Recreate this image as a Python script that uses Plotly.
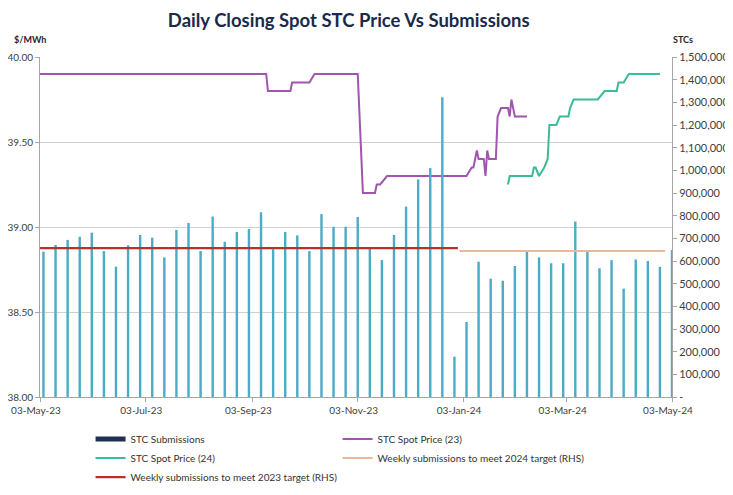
import pandas as pd
import plotly.graph_objects as go

# ---- data ----
sub_start = "2023-05-05"
submissions = [641000, 671000, 693000, 707000, 725000, 644000, 575000, 669000, 715000, 703000,
               616000, 737000, 768000, 644000, 796000, 685000, 728000, 741000, 815000, 652000,
               728000, 713000, 644000, 807000, 751000, 751000, 794000, 656000, 604000, 715000,
               840000, 960000, 1010000, 1322000, 178000, 331000, 597000, 522000, 513000, 578000,
               644000, 616000, 590000, 590000, 774000, 641000, 568000, 604000, 478000, 607000,
               600000, 574000, 649000]
sub_dates = pd.date_range(sub_start, periods=len(submissions), freq="7D")

spot23_dates = ["2023-05-03", "2023-09-11", "2023-09-12", "2023-09-25", "2023-09-26", "2023-10-06",
                "2023-10-09", "2023-11-03", "2023-11-06", "2023-11-13", "2023-11-14", "2023-11-16",
                "2023-11-20", "2024-01-05", "2024-01-08", "2024-01-09", "2024-01-10", "2024-01-11",
                "2024-01-12", "2024-01-15", "2024-01-16", "2024-01-17", "2024-01-18", "2024-01-22",
                "2024-01-23", "2024-01-25", "2024-01-29", "2024-01-30", "2024-01-31", "2024-02-02",
                "2024-02-09"]
spot23_vals = [39.90, 39.90, 39.80, 39.80, 39.85, 39.85,
               39.90, 39.90, 39.20, 39.20, 39.25, 39.25,
               39.30, 39.30, 39.35, 39.35, 39.40, 39.45,
               39.40, 39.40, 39.30, 39.45, 39.40, 39.40,
               39.65, 39.70, 39.70, 39.65, 39.75, 39.65,
               39.65]

spot24_dates = ["2024-01-29", "2024-01-30", "2024-02-12", "2024-02-13", "2024-02-14", "2024-02-16",
                "2024-02-19", "2024-02-21", "2024-02-22", "2024-02-26", "2024-02-28", "2024-03-04",
                "2024-03-05", "2024-03-07", "2024-03-21", "2024-03-25", "2024-04-01", "2024-04-02",
                "2024-04-05", "2024-04-08", "2024-04-26"]
spot24_vals = [39.25, 39.30, 39.30, 39.35, 39.35, 39.30,
               39.35, 39.40, 39.60, 39.60, 39.65, 39.65,
               39.70, 39.75, 39.75, 39.80, 39.80, 39.85,
               39.85, 39.90, 39.90]

target23_dates = ["2023-05-03", "2023-12-31"]
target23_vals = [657000, 657000]
target24_dates = ["2024-01-01", "2024-04-29"]
target24_vals = [644000, 644000]

x_tickvals = ["2023-05-03", "2023-07-03", "2023-09-03", "2023-11-03", "2024-01-03", "2024-03-03", "2024-05-03"]
x_ticktext = ["03-May-23", "03-Jul-23", "03-Sep-23", "03-Nov-23", "03-Jan-24", "03-Mar-24", "03-May-24"]
y2_tickvals = list(range(0, 1500001, 100000))
y2_ticktext = ["-"] + [f"{v:,}" for v in y2_tickvals[1:]]

# ---- styles ----
FONT = "Lato"
C_BAR = "#4BACC6"
C_BAR_LEG = "#1F3050"
C_23 = "#A055AE"
C_24 = "#3DBA98"
C_T23 = "#B8302A"
C_T24 = "#E8B89C"
AX = "#A6A6A6"

fig = go.Figure()

fig.add_trace(go.Bar(x=sub_dates, y=submissions, yaxis="y2", name="STC Submissions",
                     marker=dict(color=C_BAR, line=dict(width=0)),
                     width=1.4 * 86400000, showlegend=False))
# legend entries
fig.add_trace(go.Scatter(x=[None], y=[None], mode="lines", name="STC Submissions",
                         line=dict(color=C_BAR_LEG, width=5), yaxis="y2"))
fig.add_trace(go.Scatter(x=spot23_dates, y=spot23_vals, mode="lines", name="STC Spot Price (23)",
                         line=dict(color=C_23, width=2)))
fig.add_trace(go.Scatter(x=spot24_dates, y=spot24_vals, mode="lines", name="STC Spot Price (24)",
                         line=dict(color=C_24, width=2)))
fig.add_trace(go.Scatter(x=target24_dates, y=target24_vals, mode="lines", yaxis="y2",
                         name="Weekly submissions to meet 2024 target (RHS)",
                         line=dict(color=C_T24, width=2)))
fig.add_trace(go.Scatter(x=target23_dates, y=target23_vals, mode="lines", yaxis="y2",
                         name="Weekly submissions to meet 2023 target (RHS)",
                         line=dict(color=C_T23, width=2.2)))

fig.update_layout(
    width=725, height=487,
    margin=dict(l=32, r=61, t=49, b=98, autoexpand=False),
    paper_bgcolor="white", plot_bgcolor="white",
    font=dict(family=FONT, size=10, color="#404040"),
    barmode="overlay",
    title=dict(text="<b>Daily Closing Spot STC Price Vs Submissions</b>",
               font=dict(family=FONT, size=18.5, color="#1B2A4A"),
               x=0.47, xref="container", xanchor="center", y=0.975, yanchor="middle"),
    xaxis=dict(type="date", range=["2023-05-03", "2024-05-03"],
               tickvals=x_tickvals, ticktext=x_ticktext,
               showgrid=False, showline=True, linecolor=AX, linewidth=1,
               ticks="outside", tickcolor=AX, ticklen=4, ticklabelshift=-4,
               tickfont=dict(size=10, color="#404040"), zeroline=False),
    yaxis=dict(range=[38, 40], dtick=0.5, tickformat=".2f",
               showgrid=True, gridcolor="#D0D0D0", gridwidth=1,
               showline=True, linecolor=AX, linewidth=1,
               ticks="outside", tickcolor=AX, ticklen=4,
               tickfont=dict(size=10, color="#404040"), zeroline=False),
    yaxis2=dict(range=[0, 1500000], overlaying="y", side="right",
                tickvals=y2_tickvals, ticktext=y2_ticktext,
                showgrid=False, showline=True, linecolor=AX, linewidth=1,
                ticks="outside", tickcolor=AX, ticklen=4,
                tickfont=dict(size=11, color="#404040"), zeroline=False),
    legend=dict(orientation="h", x=0.08, xanchor="left", y=-0.081, yanchor="top",
                entrywidth=202, entrywidthmode="pixels",
                font=dict(family=FONT, size=10, color="#333333"),
                itemwidth=30, traceorder="normal", bgcolor="rgba(0,0,0,0)"),
    annotations=[
        dict(text="<b>$/MWh</b>", xref="paper", yref="paper", x=-0.016, y=1.05,
             xanchor="center", yanchor="middle", showarrow=False,
             font=dict(family=FONT, size=9, color="#262626")),
        dict(text="<b>STCs</b>", xref="paper", yref="paper", x=1.018, y=1.05,
             xanchor="center", yanchor="middle", showarrow=False,
             font=dict(family=FONT, size=9, color="#262626")),
    ],
)

fig.write_html("out.html")
